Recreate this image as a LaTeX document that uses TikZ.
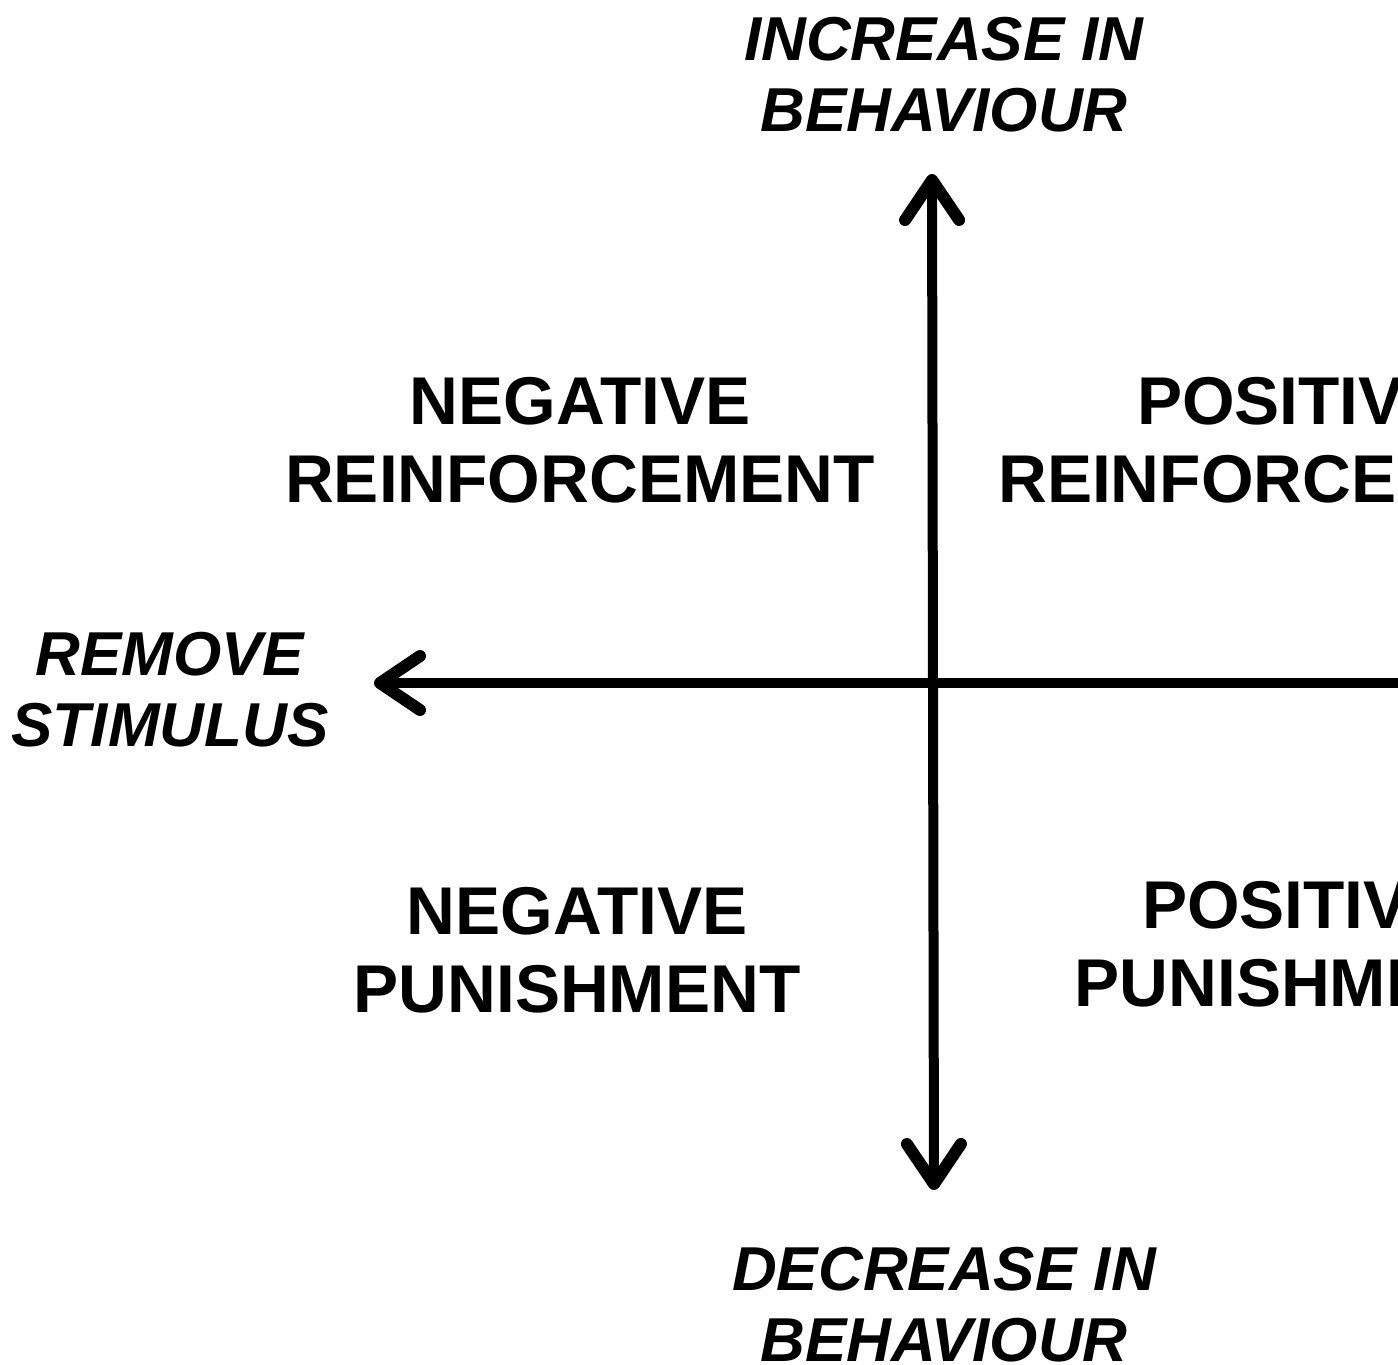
\documentclass[tikz,border=0pt]{standalone}
\usepackage{fontspec}
\setmainfont{Liberation Sans}
\usetikzlibrary{arrows.meta}
\begin{document}
\begin{tikzpicture}[x=0.5pt,y=-0.5pt,
  quad/.style={font=\fontsize{33.8}{39}\selectfont\bfseries, align=center, inner sep=0pt},
  axlabel/.style={font=\fontsize{31}{35.5}\selectfont\bfseries\itshape, align=center, inner sep=0pt},
  axis/.style={line width=5pt, -{Straight Barb[length=20pt,width=27pt,line width=6pt,line cap=round,line join=round]}},
  axisplain/.style={line width=5pt}]
\useasboundingbox (0,0) rectangle (1398,1365);
\clip (0,0) rectangle (1398,1365);
\fill[white] (0,0) rectangle (1398,1365);
% axis points
\coordinate (c) at (933,683);
\coordinate (top) at (932,174);
\coordinate (bot) at (934,1190);
\coordinate (left) at (374,683);
\coordinate (right) at (1420,683);
\draw[axis] (c) -- (top);
\draw[axis] (c) -- (bot);
\draw[axis] (c) -- (left);
\draw[axisplain] (c) -- (right);
% labels
\node[axlabel] (inc) at (944,75) {INCREASE IN\\BEHAVIOUR};
\node[axlabel] (dec) at (944,1305) {DECREASE IN\\BEHAVIOUR};
\node[axlabel] (rem) at (170,690) {REMOVE\\STIMULUS};
\node[quad] (nr) at (580,440) {NEGATIVE\\REINFORCEMENT};
\node[quad] (pr) at (1293,440) {POSITIVE\\REINFORCEMENT};
\node[quad] (np) at (577,950) {NEGATIVE\\PUNISHMENT};
\node[quad] (pp) at (1298,944) {POSITIVE\\PUNISHMENT};
\end{tikzpicture}
\end{document}
